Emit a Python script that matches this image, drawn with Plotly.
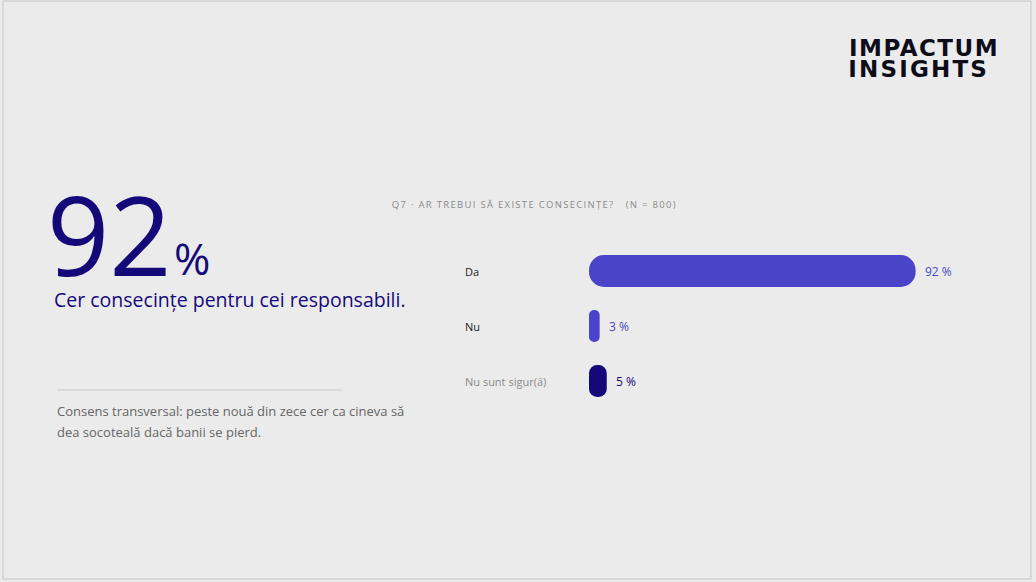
import plotly.graph_objects as go

# survey answers (Q7, N = 800)
answers = ['Da', 'Nu', 'Nu sunt sigur(ă)']
shares = [92, 3, 5]
bar_colors = ['#4a45c8', '#4a45c8', '#15097a']
label_colors = ['#222222', '#222222', '#8a8a8a']

headline_value = '92'
headline_text = 'Cer consecințe pentru cei responsabili.'
note_lines = ['Consens transversal: peste nouă din zece cer ca cineva să',
              'dea socoteală dacă banii se pierd.']
question = 'Q7 · AR TREBUI SĂ EXISTE CONSECINȚE?   (N = 800)'

W, H = 1036, 582
FONT = 'Open Sans'


def px(x):
    return x / W


def py(y):
    return 1 - y / H


fig = go.Figure()
# explicit base -> plotly rounds both ends of the bar (pill shape)
fig.add_trace(go.Bar(
    y=answers, x=shares, base=[0] * len(shares), orientation='h',
    marker=dict(color=bar_colors, line=dict(width=0), cornerradius=16),
    width=0.58, hoverinfo='skip',
))

annotations = []
# value labels next to the bars
for a, v, c in zip(answers, shares, bar_colors):
    annotations.append(dict(x=v, y=a, xref='x', yref='y', text=f'{v} %',
                            showarrow=False, xanchor='left', xshift=7,
                            font=dict(family=FONT, size=12, color=c)))
# category labels on the left
for a, c in zip(answers, label_colors):
    annotations.append(dict(x=px(463), y=a, xref='paper', yref='y', text=a,
                            showarrow=False, xanchor='left',
                            font=dict(family=FONT, size=11, color=c)))

annotations += [
    dict(x=px(45), y=py(233), text=headline_value, font=dict(family=FONT, size=109, color='#15097a')),
    dict(x=px(172), y=py(258), text='%', font=dict(family=FONT, size=44, color='#15097a')),
    dict(x=px(52), y=py(299), text=headline_text, font=dict(family=FONT, size=19.5, color='#15097a')),
    dict(x=px(55), y=py(411), text=note_lines[0], font=dict(family=FONT, size=13, color='#666666')),
    dict(x=px(55), y=py(432), text=note_lines[1], font=dict(family=FONT, size=13, color='#666666')),
    dict(x=px(534.5), y=py(204), text=question, xanchor='center',
         font=dict(family=FONT, size=9.5, color='#8a8a8a')),
    dict(x=px(923.5), y=py(48), text='<b>IMPACTUM</b>', xanchor='center',
         font=dict(family='DejaVu Sans', size=23, color='#0d0d1a')),
    dict(x=px(918), y=py(69), text='<b>INSIGHTS</b>', xanchor='center',
         font=dict(family='DejaVu Sans', size=23, color='#0d0d1a')),
]
for an in annotations:
    an.setdefault('xref', 'paper')
    an.setdefault('yref', 'paper')
    an.setdefault('showarrow', False)
    an.setdefault('xanchor', 'left')
    an.setdefault('yanchor', 'middle')

fig.update_layout(
    width=W, height=H,
    margin=dict(l=0, r=0, t=0, b=0),
    paper_bgcolor='#ebebeb', plot_bgcolor='#ebebeb',
    showlegend=False,
    annotations=annotations,
    xaxis=dict(domain=[px(589), px(944)], range=[0, 100], visible=False, fixedrange=True),
    yaxis=dict(domain=[py(408.5), py(243.5)], range=[2.5, -0.5], visible=False, fixedrange=True),
    shapes=[
        dict(type='line', xref='paper', yref='paper', x0=px(57), x1=px(341), y0=py(390), y1=py(390),
             line=dict(color='#c8c8c8', width=1)),
        dict(type='rect', xref='paper', yref='paper', x0=px(3), x1=px(1031), y0=py(579), y1=py(1),
             line=dict(color='#c4c4c4', width=1)),
    ],
)

# page margin off, letter spacing for the small caps title and the logo
post = """
document.body.style.margin = '0';
document.querySelectorAll('.annotation-text').forEach(function (t) {
    if (t.textContent.indexOf('Q7') === 0) { t.style.letterSpacing = '1.3px'; }
    if (t.textContent === 'IMPACTUM') { t.style.letterSpacing = '1.5px'; }
    if (t.textContent === 'INSIGHTS') { t.style.letterSpacing = '2.2px'; }
});
"""
fig.write_html('out.html', post_script=post, config={'displayModeBar': False})
